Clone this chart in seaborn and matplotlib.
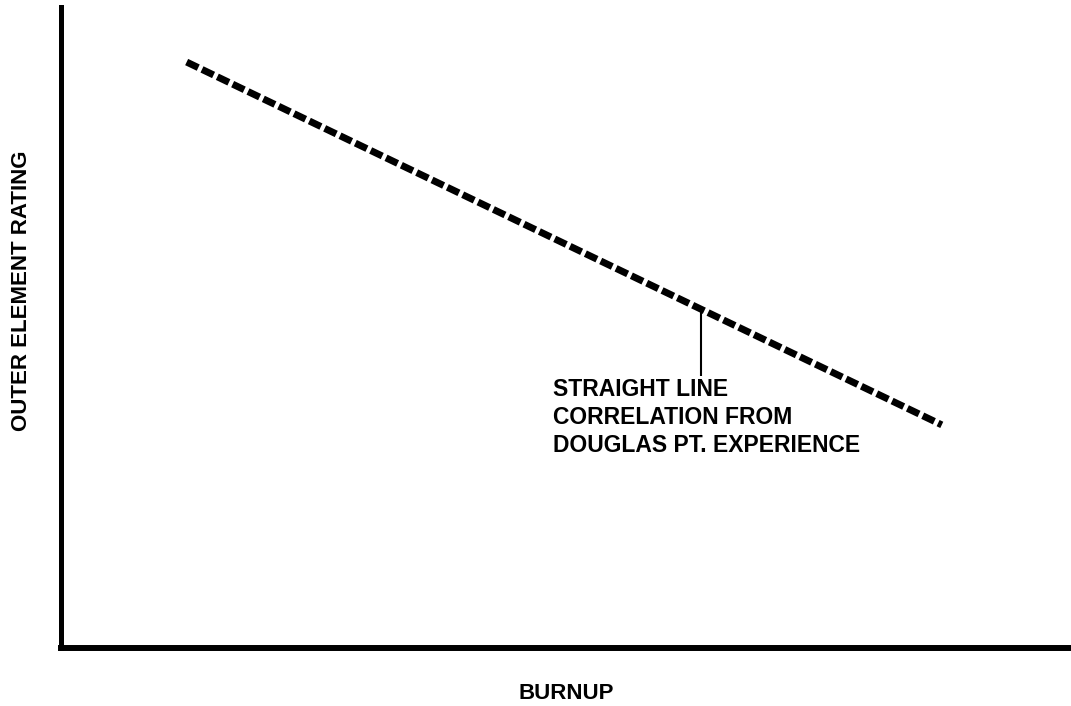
import matplotlib
matplotlib.use("Agg")
import matplotlib.pyplot as plt
import seaborn as sns
import pandas as pd

# Schematic correlation: outer element rating falls linearly with burnup
burnup = [1.24, 8.72]
rating = [9.14, 3.48]

x_label = "BURNUP"
y_label = "OUTER ELEMENT RATING"
note_text = "STRAIGHT LINE\nCORRELATION FROM\nDOUGLAS PT. EXPERIENCE"
note_point = (6.33, 5.29)   # where the pointer touches the correlation line
note_pointer_end = 4.24     # lower end of the pointer
note_text_pos = (4.87, 3.06)

sns.set_theme(style="white")
plt.rcParams["font.family"] = ["Liberation Sans", "DejaVu Sans"]

fig = plt.figure(figsize=(10.71, 7.06), dpi=100)
ax = fig.add_axes([0.0574, 0.0822, 0.9426, 0.908])

df = pd.DataFrame({"burnup": burnup, "rating": rating})
sns.lineplot(data=df, x="burnup", y="rating", ax=ax, color="black",
             linewidth=5.0, dashes=False)
ax.lines[0].set_dashes((1.85, 0.6))
ax.lines[0].set_dash_capstyle("butt")

# pointer from the line down to the note
ax.vlines(note_point[0], note_pointer_end, note_point[1], color="black", linewidth=1.5)
ax.text(note_text_pos[0], note_text_pos[1], note_text, ha="left", va="baseline",
        fontsize=16.5, fontweight="bold", linespacing=1.27, color="black")

ax.set_xlim(0, 10)
ax.set_ylim(0, 10)
ax.set_xticks([])
ax.set_yticks([])
ax.set_xlabel(x_label, fontsize=16, fontweight="bold", color="black")
ax.set_ylabel(y_label, fontsize=16, fontweight="bold", color="black")
ax.xaxis.set_label_coords(0.5, -0.0546)
ax.yaxis.set_label_coords(-0.029, 0.557)

for side in ("top", "right"):
    ax.spines[side].set_visible(False)
ax.spines["left"].set_linewidth(3.6)
ax.spines["bottom"].set_linewidth(4.3)
for side in ("left", "bottom"):
    ax.spines[side].set_color("black")
    ax.spines[side].set_capstyle("projecting")

fig.savefig("out.png", dpi=100, facecolor="white")
